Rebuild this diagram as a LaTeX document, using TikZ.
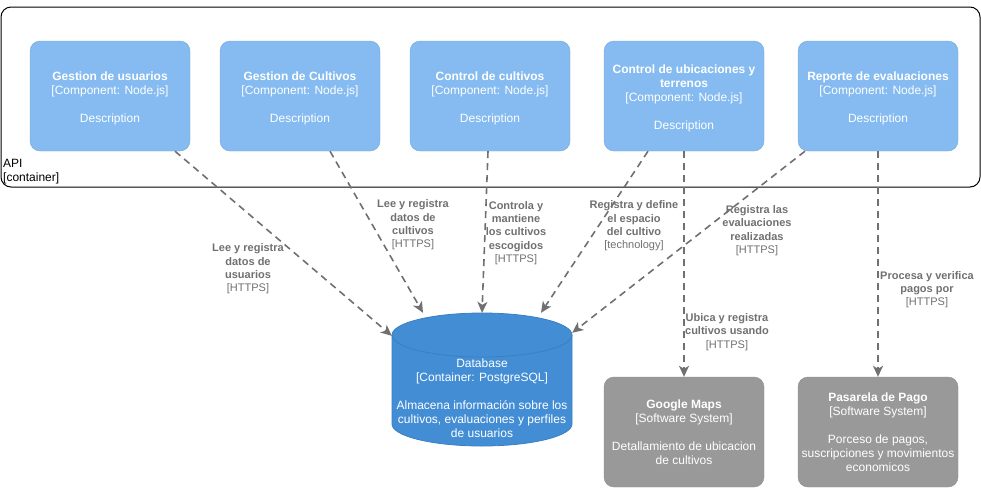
\documentclass[tikz,border=0pt]{standalone}
\usepackage{fontspec}
\setmainfont{Liberation Sans}
\usetikzlibrary{arrows.meta,calc}
\definecolor{compfill}{HTML}{85BBF0}
\definecolor{compline}{HTML}{78A8D8}
\definecolor{dbfill}{HTML}{438DD5}
\definecolor{dbline}{HTML}{3C7FC0}
\definecolor{extfill}{HTML}{999999}
\definecolor{extline}{HTML}{8A8A8A}
\definecolor{relgray}{HTML}{707070}
\newcommand{\toppad}{\rule{0pt}{13pt}}
\begin{document}
\begin{tikzpicture}[x=1pt,y=-1pt,
 comp/.style={draw=compline, fill=compfill, rounded corners=10pt, minimum width=160pt, minimum height=110pt, text=white, align=center, font=\fontsize{12}{14}\selectfont, inner sep=0pt},
 ext/.style={comp, draw=extline, fill=extfill},
 rel/.style={draw=relgray, line width=1.6pt, dash pattern=on 7pt off 5pt, -{Stealth[length=11pt,width=10pt,inset=3pt]}},
 rlabel/.style={text=relgray, align=center, font=\fontsize{11}{13.3}\selectfont\bfseries, inner sep=0pt},
]
\useasboundingbox (0,0) rectangle (981,488);
% container boundary
\draw[black, line width=1pt, rounded corners=10pt] (1,7) rectangle (980,187);
\node[anchor=north west, align=left, inner sep=0pt, font=\fontsize{12}{14}\selectfont] (api) at (3,159) {API\\{}[container]};

% components
\node[comp] (c1) at (110,96) {\toppad{\bfseries Gestion de usuarios}\\{}[Component: Node.js]\\[14pt]Description};
\node[comp] (c2) at (300,96) {\toppad{\bfseries Gestion de Cultivos}\\{}[Component: Node.js]\\[14pt]Description};
\node[comp] (c3) at (490,96) {\toppad{\bfseries Control de cultivos}\\{}[Component: Node.js]\\[14pt]Description};
\node[comp] (c4) at (684,96) {\toppad{\bfseries Control de ubicaciones y}\\{\bfseries terrenos}\\{}[Component: Node.js]\\[14pt]Description};
\node[comp] (c5) at (878,96) {\toppad{\bfseries Reporte de evaluaciones}\\{}[Component: Node.js]\\[14pt]Description};

% database
\node[minimum width=180pt, minimum height=133pt, inner sep=0pt] (db) at (482,379.5) {};
\fill[dbfill, draw=dbline, line width=0.8pt] (392,335) -- (392,424) arc[start angle=180, end angle=0, x radius=90, y radius=22] -- (572,335) arc[start angle=0, end angle=-180, x radius=90, y radius=22] -- cycle;
\draw[dbline, line width=0.8pt] (392,335) arc[start angle=180, end angle=0, x radius=90, y radius=22];
\node[text=white, align=center, font=\fontsize{12}{14}\selectfont, inner sep=0pt] (dbt) at (482,398.5) {Database\\{}[Container: PostgreSQL]\\[14pt]Almacena información sobre los\\cultivos, evaluaciones y perfiles\\de usuarios};

% external systems
\node[ext] (gm) at (684,432) {{\bfseries Google Maps}\\{}[Software System]\\[14pt]Detallamiento de ubicacion\\de cultivos};
\node[ext] (pp) at (878,432) {{\bfseries Pasarela de Pago}\\{}[Software System]\\[14pt]Porceso de pagos,\\suscripciones y movimientos\\economicos};

% relations
\draw[rel] ($(c1.south)+(65,0)$) -- ($(db.north west)+(0,23)$);
\draw[rel] ($(c2.south)+(30,0)$) -- ($(db.north)+(-59,0)$);
\draw[rel] ($(c3.south)+(-2,0)$) -- (db.north);
\draw[rel] ($(c4.south)+(-36,0)$) -- ($(db.north)+(59,0)$);
\draw[rel] ($(c5.south)+(-73,0)$) -- ($(db.north east)+(0,20)$);
\draw[rel] (c4.south) -- (gm.north);
\draw[rel] (c5.south) -- (pp.north);

% labels
\node[rlabel] (l1) at (248,269) {Lee y registra\\datos de\\usuarios\\\mdseries[HTTPS]};
\node[rlabel] (l2) at (413,225) {Lee y registra\\datos de\\cultivos\\\mdseries[HTTPS]};
\node[rlabel] (l3) at (516,233) {Controla y\\mantiene\\los cultivos\\escogidos\\\mdseries[HTTPS]};
\node[rlabel] (l4) at (634,226) {Registra y define\\el espacio\\del cultivo\\\mdseries[technology]};
\node[rlabel] (l5) at (757,230.5) {Registra las\\evaluaciones\\realizadas\\\mdseries[HTTPS]};
\node[rlabel] (l6) at (927,289.5) {Procesa y verifica\\pagos por\\\mdseries[HTTPS]};
\node[rlabel] (l7) at (727,332) {Ubica y registra\\cultivos usando\\\mdseries[HTTPS]};
\end{tikzpicture}
\end{document}
